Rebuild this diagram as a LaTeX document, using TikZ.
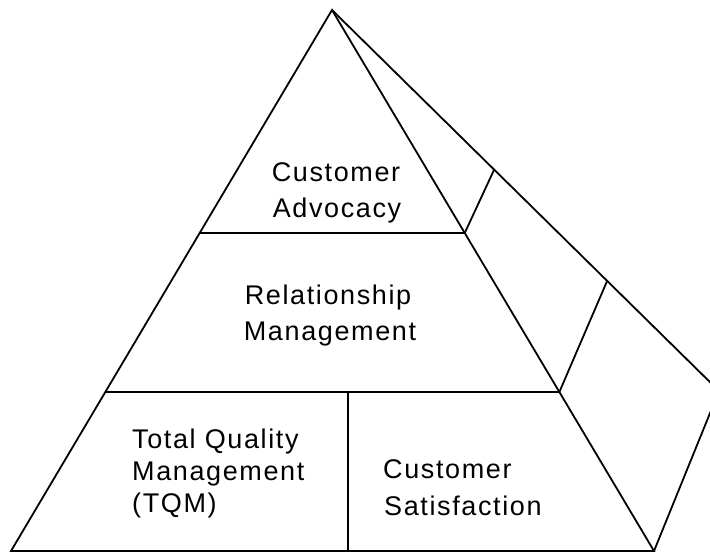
\documentclass[tikz,border=0pt]{standalone}
\usepackage{fontspec}
\setmainfont{Liberation Sans}[LetterSpace=6]
\usetikzlibrary{calc}
\begin{document}
\begin{tikzpicture}[x=1pt,y=-1pt,
  edge/.style={line width=1.8pt,line join=miter},
  lbl/.style={inner sep=0pt,font=\fontsize{27}{36}\selectfont}]
\useasboundingbox (0,0) rectangle (710,553);
\clip (0,0) rectangle (710,553);
% corner points
\coordinate (A) at (332,10);
\coordinate (BL) at (11,551);
\coordinate (BR) at (654,551);
\coordinate (C) at (719,391);
\coordinate (P1L) at ($(A)!0.4122!(BL)$);
\coordinate (P1R) at ($(A)!0.4122!(BR)$);
\coordinate (P2L) at ($(A)!0.7061!(BL)$);
\coordinate (P2R) at ($(A)!0.7061!(BR)$);
\coordinate (Q1) at ($(A)!0.419!(C)$);
\coordinate (Q2) at ($(A)!0.711!(C)$);
\coordinate (M2) at (348,392);
\coordinate (MB) at (348,551);
% front face
\draw[edge] (A) -- (BL) -- (BR) -- cycle;
\draw[edge] (P1L) -- (P1R);
\draw[edge] (P2L) -- (P2R);
\draw[edge] (M2) -- (MB);
% side face
\draw[edge] (A) -- (C) -- (BR);
\draw[edge] (P1R) -- (Q1);
\draw[edge] (P2R) -- (Q2);
% labels
\node[lbl,anchor=base] (ca1) at (336,182) {Customer};
\node[lbl,anchor=base] (ca2) at (337,218) {Advocacy};
\node[lbl,anchor=base] (rm1) at (328,305) {Relationship};
\node[lbl,anchor=base] (rm2) at (330,341) {Management};
\node[lbl,anchor=base west] (tq1) at (132,448) {Total Quality};
\node[lbl,anchor=base west] (tq2) at (132,480) {Management};
\node[lbl,anchor=base west] (tq3) at (132,512) {(TQM)};
\node[lbl,anchor=base west] (cs1) at (383,478) {Customer};
\node[lbl,anchor=base west] (cs2) at (384,515) {Satisfaction};
\end{tikzpicture}
\end{document}
